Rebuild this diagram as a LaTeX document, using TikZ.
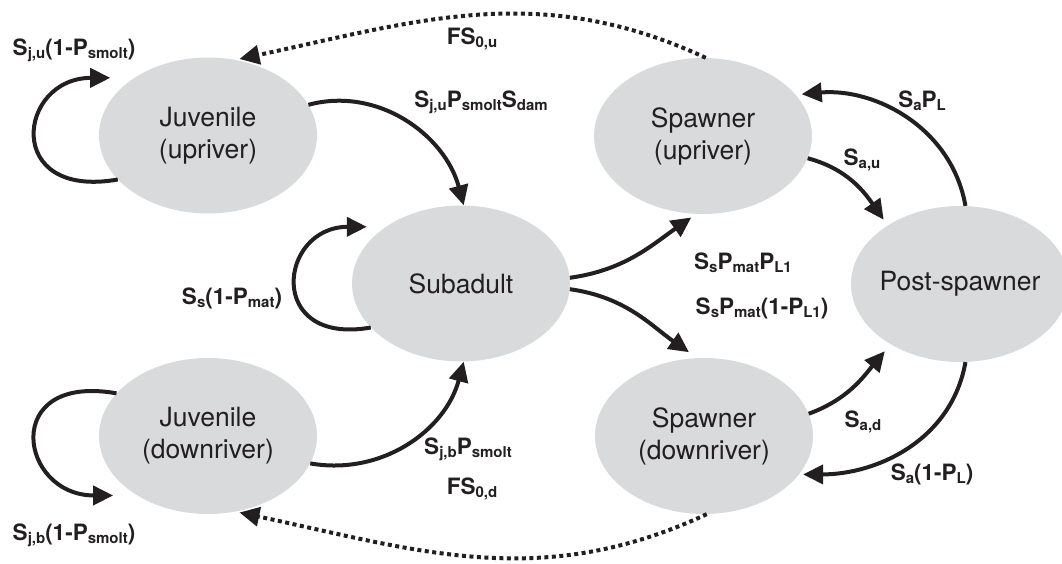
\documentclass[tikz,border=0pt]{standalone}
\usepackage{fontspec}
\setmainfont{TeX Gyre Heros}
\usetikzlibrary{shapes.geometric,arrows.meta}
\definecolor{stagegray}{HTML}{D9DADC}
\definecolor{inkdark}{HTML}{231F20}
\newcommand{\lo}[1]{\raisebox{-0.12em}{\fontsize{15}{15}\selectfont #1}}

\begin{document}
\begin{tikzpicture}[x=1pt,y=1pt,
                    stage/.style={ellipse,fill=stagegray,minimum width=218pt,minimum height=156pt,
                                  inner sep=0pt,align=center,text=inkdark,font=\fontsize{26.5}{32}\selectfont},
                    rate/.style={anchor=base,inner sep=0pt,text=inkdark,font=\bfseries\fontsize{22.5}{27}\selectfont},
                    flow/.style={draw=inkdark,line width=4pt,-{Triangle[length=20pt,width=19pt]}},
                    spawn/.style={flow,dash pattern=on 4pt off 3.5pt}]
\useasboundingbox (0,0) rectangle (1062,564);
\node[stage] (ju) at (208,428.5) {Juvenile\\(upriver)};
\node[stage] (jd) at (208,128) {Juvenile\\(downriver)};
\node[stage] (sub) at (461,280.5) {Subadult};
\node[stage] (su) at (703,428) {Spawner\\(upriver)};
\node[stage] (sd) at (704,128) {Spawner\\(downriver)};
\node[stage] (ps) at (960,280) {\makebox[140pt]{Post-spawner}};

\draw[flow,shorten >=24pt] (ju.206) to[out=190,in=180,looseness=2.9] (ju.142);
\draw[flow,shorten >=24pt] (jd.155) to[out=170,in=180,looseness=2.9] (jd.220);
\draw[flow,shorten >=19pt] (sub.206) to[out=190,in=180,looseness=2.7] (sub.143);
\draw[flow] (ju.17) to[out=15,in=105] (sub.88);
\draw[flow] (jd.-15) to[out=-10,in=-105] (sub.-88);
\draw[flow,shorten >=6pt] (sub.3) to[out=8,in=-145] (su.-95);
\draw[flow,shorten >=10pt] (sub.-3) to[out=-8,in=145] (sd.95);
\draw[flow,shorten >=7pt] (su.-12) to[out=-15,in=125] (ps.141.5);
\draw[flow,shorten >=6pt] (ps.86) to[out=100,in=5] (su.24);
\draw[flow,shorten >=9pt] (sd.12.5) to[out=20,in=230] (ps.221);
\draw[flow,shorten >=4pt] (ps.-86) to[out=-100,in=0] (sd.-22.5);
\draw[spawn,shorten >=4pt] (su.88) to[out=155,in=12] (ju.70);
\draw[spawn,shorten >=4pt] (sd.-88) to[out=-155,in=-12] (jd.-70);

\node[rate] (rju) at (74,508) {S\lo{j,u}(1-P\lo{smolt})};
\node[rate] (rjd) at (74,23) {S\lo{j,b}(1-P\lo{smolt})};
\node[rate] (rjus) at (481,456) {S\lo{j,u}P\lo{smolt}S\lo{dam}};
\node[rate] (rjds) at (468,109) {S\lo{j,b}P\lo{smolt}};
\node[rate] (rsub) at (232,259) {S\lo{s}(1-P\lo{mat})};
\node[rate] (rsu) at (743,294) {S\lo{s}P\lo{mat}P\lo{L1}};
\node[rate] (rsd) at (762,249) {S\lo{s}P\lo{mat}(1-P\lo{L1})};
\node[rate] (rau) at (862,398) {S\lo{a,u}};
\node[rate] (rpu) at (922,456) {S\lo{a}P\lo{L}};
\node[rate] (rad) at (863,136) {S\lo{a,d}};
\node[rate] (rpd) at (932,83) {S\lo{a}(1-P\lo{L})};
\node[rate] (rfu) at (472,519) {FS\lo{0,u}};
\node[rate] (rfd) at (472,69) {FS\lo{0,d}};
\end{tikzpicture}
\end{document}
